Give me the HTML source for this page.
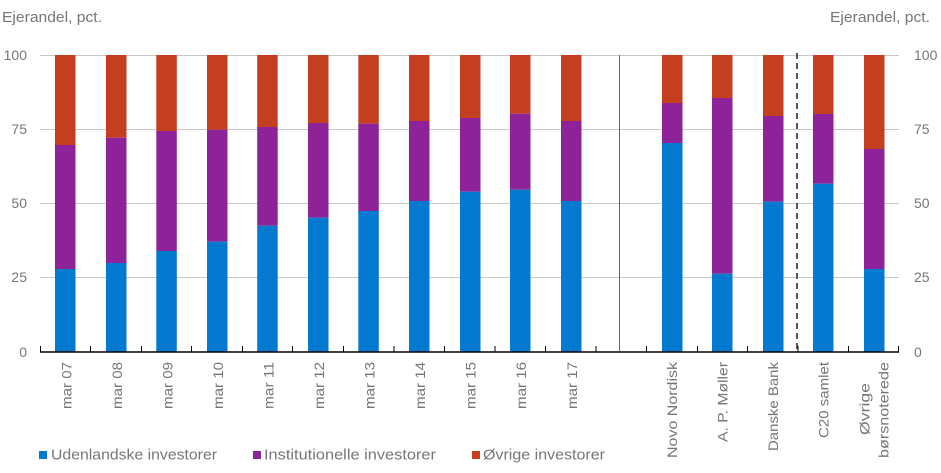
<!DOCTYPE html>
<html><head><meta charset="utf-8"><style>
html,body{margin:0;padding:0;background:#fff;}
svg{display:block;}
text{font-family:"Liberation Sans",Arial,sans-serif;fill:#767676;}
</style></head><body>
<svg width="941" height="473" viewBox="0 0 941 473" xmlns="http://www.w3.org/2000/svg">
<text x="2" y="22" font-size="15" textLength="100" lengthAdjust="spacingAndGlyphs">Ejerandel, pct.</text>
<text x="830" y="22" font-size="15" textLength="100" lengthAdjust="spacingAndGlyphs">Ejerandel, pct.</text>
<g stroke="#c8c8c8" stroke-width="1">
<line x1="40" y1="55.5" x2="899" y2="55.5"/>
<line x1="40" y1="129.5" x2="899" y2="129.5"/>
<line x1="40" y1="203.5" x2="899" y2="203.5"/>
<line x1="40" y1="277.5" x2="899" y2="277.5"/>
</g>
<g font-size="14" text-anchor="end">
<text x="27" y="60">100</text>
<text x="27" y="134">75</text>
<text x="27" y="208">50</text>
<text x="27" y="282">25</text>
<text x="27" y="357">0</text>
</g>
<g font-size="14">
<text x="914" y="60">100</text>
<text x="914" y="134">75</text>
<text x="914" y="208">50</text>
<text x="914" y="282">25</text>
<text x="914" y="357">0</text>
</g>
<g>
<rect x="55" y="55" width="20.5" height="90" fill="#c43e20"/>
<rect x="55" y="145" width="20.5" height="124" fill="#8e2299"/>
<rect x="55" y="269" width="20.5" height="83" fill="#0379d0"/>
<rect x="106" y="55" width="20.5" height="82.7" fill="#c43e20"/>
<rect x="106" y="137.7" width="20.5" height="125.3" fill="#8e2299"/>
<rect x="106" y="263" width="20.5" height="89" fill="#0379d0"/>
<rect x="156.3" y="55" width="20.5" height="76" fill="#c43e20"/>
<rect x="156.3" y="131" width="20.5" height="120" fill="#8e2299"/>
<rect x="156.3" y="251" width="20.5" height="101" fill="#0379d0"/>
<rect x="207" y="55" width="20.5" height="74.7" fill="#c43e20"/>
<rect x="207" y="129.7" width="20.5" height="112" fill="#8e2299"/>
<rect x="207" y="241.7" width="20.5" height="110.3" fill="#0379d0"/>
<rect x="257.2" y="55" width="20.5" height="72" fill="#c43e20"/>
<rect x="257.2" y="127" width="20.5" height="98.7" fill="#8e2299"/>
<rect x="257.2" y="225.7" width="20.5" height="126.3" fill="#0379d0"/>
<rect x="308" y="55" width="20.5" height="68" fill="#c43e20"/>
<rect x="308" y="123" width="20.5" height="94.7" fill="#8e2299"/>
<rect x="308" y="217.7" width="20.5" height="134.3" fill="#0379d0"/>
<rect x="358.3" y="55" width="20.5" height="68.7" fill="#c43e20"/>
<rect x="358.3" y="123.7" width="20.5" height="87.3" fill="#8e2299"/>
<rect x="358.3" y="211" width="20.5" height="141" fill="#0379d0"/>
<rect x="409" y="55" width="20.5" height="66" fill="#c43e20"/>
<rect x="409" y="121" width="20.5" height="80" fill="#8e2299"/>
<rect x="409" y="201" width="20.5" height="151" fill="#0379d0"/>
<rect x="460" y="55" width="20.5" height="63" fill="#c43e20"/>
<rect x="460" y="118" width="20.5" height="73.7" fill="#8e2299"/>
<rect x="460" y="191.7" width="20.5" height="160.3" fill="#0379d0"/>
<rect x="510" y="55" width="20.5" height="58.7" fill="#c43e20"/>
<rect x="510" y="113.7" width="20.5" height="76" fill="#8e2299"/>
<rect x="510" y="189.7" width="20.5" height="162.3" fill="#0379d0"/>
<rect x="561" y="55" width="20.5" height="66" fill="#c43e20"/>
<rect x="561" y="121" width="20.5" height="80" fill="#8e2299"/>
<rect x="561" y="201" width="20.5" height="151" fill="#0379d0"/>
<rect x="662" y="55" width="20.5" height="48" fill="#c43e20"/>
<rect x="662" y="103" width="20.5" height="40" fill="#8e2299"/>
<rect x="662" y="143" width="20.5" height="209" fill="#0379d0"/>
<rect x="712" y="55" width="20.5" height="43" fill="#c43e20"/>
<rect x="712" y="98" width="20.5" height="175.7" fill="#8e2299"/>
<rect x="712" y="273.7" width="20.5" height="78.3" fill="#0379d0"/>
<rect x="763" y="55" width="20.5" height="61" fill="#c43e20"/>
<rect x="763" y="116" width="20.5" height="85.7" fill="#8e2299"/>
<rect x="763" y="201.7" width="20.5" height="150.3" fill="#0379d0"/>
<rect x="813" y="55" width="20.5" height="59" fill="#c43e20"/>
<rect x="813" y="114" width="20.5" height="69.7" fill="#8e2299"/>
<rect x="813" y="183.7" width="20.5" height="168.3" fill="#0379d0"/>
<rect x="864" y="55" width="20.5" height="94" fill="#c43e20"/>
<rect x="864" y="149" width="20.5" height="120" fill="#8e2299"/>
<rect x="864" y="269" width="20.5" height="83" fill="#0379d0"/>
</g>
<line x1="619.5" y1="55" x2="619.5" y2="351" stroke="#666" stroke-width="1"/>
<line x1="797" y1="53" x2="797" y2="352" stroke="#555" stroke-width="2" stroke-dasharray="6,4"/>
<line x1="40" y1="352" x2="899" y2="352" stroke="#000" stroke-width="1.5"/>
<g stroke="#000" stroke-width="1">
<line x1="40.5" y1="346" x2="40.5" y2="352"/>
<line x1="90.5" y1="346" x2="90.5" y2="352"/>
<line x1="141.5" y1="346" x2="141.5" y2="352"/>
<line x1="191.5" y1="346" x2="191.5" y2="352"/>
<line x1="242.5" y1="346" x2="242.5" y2="352"/>
<line x1="292.5" y1="346" x2="292.5" y2="352"/>
<line x1="343.5" y1="346" x2="343.5" y2="352"/>
<line x1="394" y1="346" x2="394" y2="352"/>
<line x1="444.5" y1="346" x2="444.5" y2="352"/>
<line x1="495" y1="346" x2="495" y2="352"/>
<line x1="545.5" y1="346" x2="545.5" y2="352"/>
<line x1="596" y1="346" x2="596" y2="352"/>
<line x1="646.5" y1="346" x2="646.5" y2="352"/>
<line x1="697.5" y1="346" x2="697.5" y2="352"/>
<line x1="747.5" y1="346" x2="747.5" y2="352"/>
<line x1="798" y1="346" x2="798" y2="352"/>
<line x1="848.5" y1="346" x2="848.5" y2="352"/>
<line x1="898.5" y1="346" x2="898.5" y2="352"/>
</g>
<g font-size="14" text-anchor="end">
<text x="71.5" y="362" transform="rotate(-90 71.5 362)" textLength="47" lengthAdjust="spacingAndGlyphs">mar 07</text>
<text x="122" y="362" transform="rotate(-90 122 362)" textLength="47" lengthAdjust="spacingAndGlyphs">mar 08</text>
<text x="172.5" y="362" transform="rotate(-90 172.5 362)" textLength="47" lengthAdjust="spacingAndGlyphs">mar 09</text>
<text x="223" y="362" transform="rotate(-90 223 362)" textLength="47" lengthAdjust="spacingAndGlyphs">mar 10</text>
<text x="273.5" y="362" transform="rotate(-90 273.5 362)" textLength="47" lengthAdjust="spacingAndGlyphs">mar 11</text>
<text x="324" y="362" transform="rotate(-90 324 362)" textLength="47" lengthAdjust="spacingAndGlyphs">mar 12</text>
<text x="374.5" y="362" transform="rotate(-90 374.5 362)" textLength="47" lengthAdjust="spacingAndGlyphs">mar 13</text>
<text x="425" y="362" transform="rotate(-90 425 362)" textLength="47" lengthAdjust="spacingAndGlyphs">mar 14</text>
<text x="475.5" y="362" transform="rotate(-90 475.5 362)" textLength="47" lengthAdjust="spacingAndGlyphs">mar 15</text>
<text x="526" y="362" transform="rotate(-90 526 362)" textLength="47" lengthAdjust="spacingAndGlyphs">mar 16</text>
<text x="577" y="362" transform="rotate(-90 577 362)" textLength="47" lengthAdjust="spacingAndGlyphs">mar 17</text>
<text x="677" y="362" transform="rotate(-90 677 362)" textLength="96" lengthAdjust="spacingAndGlyphs">Novo Nordisk</text>
<text x="727.5" y="362" transform="rotate(-90 727.5 362)" textLength="80" lengthAdjust="spacingAndGlyphs">A. P. Møller</text>
<text x="778" y="362" transform="rotate(-90 778 362)" textLength="89" lengthAdjust="spacingAndGlyphs">Danske Bank</text>
<text x="828.5" y="362" transform="rotate(-90 828.5 362)" textLength="76" lengthAdjust="spacingAndGlyphs">C20 samlet</text>
<text x="869.5" y="383" transform="rotate(-90 869.5 383)" textLength="52" lengthAdjust="spacingAndGlyphs">Øvrige</text>
<text x="888.5" y="362" transform="rotate(-90 888.5 362)" textLength="96" lengthAdjust="spacingAndGlyphs">børsnoterede</text>
</g>
<rect x="39" y="451" width="8" height="8" fill="#0379d0"/>
<text x="51" y="459.5" font-size="15" textLength="166" lengthAdjust="spacingAndGlyphs">Udenlandske investorer</text>
<rect x="253" y="451" width="8" height="8" fill="#8e2299"/>
<text x="264" y="459.5" font-size="15" textLength="172" lengthAdjust="spacingAndGlyphs">Institutionelle investorer</text>
<rect x="472" y="451" width="8" height="8" fill="#c43e20"/>
<text x="483" y="459.5" font-size="15" textLength="122" lengthAdjust="spacingAndGlyphs">Øvrige investorer</text>
</svg>
</body></html>
